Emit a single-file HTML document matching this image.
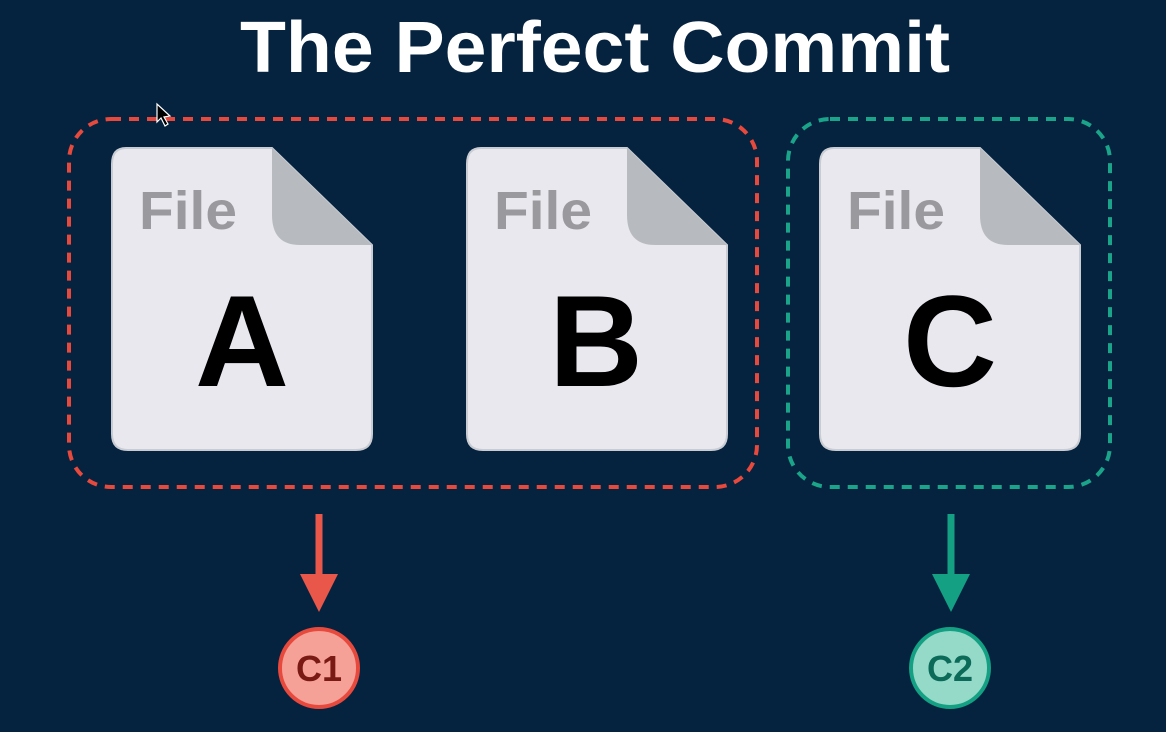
<!DOCTYPE html>
<html><head><style>body{margin:0;background:#05233f}</style></head><body>
<svg width="1166" height="732" viewBox="0 0 1166 732" xmlns="http://www.w3.org/2000/svg" style="display:block">
<rect width="1166" height="732" fill="#05233f"/>
<text x="240" y="72" textLength="710" lengthAdjust="spacingAndGlyphs" font-family="Liberation Sans, sans-serif" font-weight="bold" font-size="72" fill="#fff">The Perfect Commit</text>
<rect x="69" y="119" width="688" height="368" rx="42" fill="none" stroke="#e8493d" stroke-width="4" stroke-dasharray="10 8"/>
<rect x="788" y="119" width="322" height="368" rx="42" fill="none" stroke="#1aa58a" stroke-width="4" stroke-dasharray="10 8"/>
<g id="f">
<path d="M126 148 L272 148 L372 245 L372 434 Q372 450 356 450 L128 450 Q112 450 112 434 L112 164 Q112 148 126 148 Z" fill="#e8e8ee" stroke="#c9ccd2" stroke-width="2"/>
<path d="M272 148 L372 245 L300 245 Q272 245 272 215 Z" fill="#b7bbc0"/>
<text x="139" y="229" textLength="98" lengthAdjust="spacingAndGlyphs" font-family="Liberation Sans, sans-serif" font-weight="bold" font-size="54" fill="#9a9a9e">File</text>
</g>
<use href="#f" x="355"/>
<use href="#f" x="708"/>
<g font-family="Liberation Sans, sans-serif" font-weight="bold" font-size="130" fill="#000" text-anchor="middle">
<text x="242" y="386">A</text>
<text x="596" y="386">B</text>
<text x="950" y="386">C</text>
</g>
<line x1="319" y1="514" x2="319" y2="578" stroke="#e8574a" stroke-width="7"/>
<path d="M300 574 L338 574 L319 612 Z" fill="#e8574a"/>
<circle cx="319" cy="668" r="39" fill="#f5a197" stroke="#e8493d" stroke-width="4"/>
<text x="319" y="681" text-anchor="middle" font-family="Liberation Sans, sans-serif" font-weight="bold" font-size="36" fill="#7a1a15">C1</text>
<line x1="951" y1="514" x2="951" y2="578" stroke="#13a083" stroke-width="7"/>
<path d="M932 574 L970 574 L951 612 Z" fill="#13a083"/>
<circle cx="950" cy="668" r="39" fill="#95d9c8" stroke="#13a083" stroke-width="4"/>
<text x="950" y="681" text-anchor="middle" font-family="Liberation Sans, sans-serif" font-weight="bold" font-size="36" fill="#0c6a58">C2</text>
<path d="M157 104 L157 122 L161 118 L165 126 L168 124 L164 117 L170 116 Z" fill="#000" stroke="#fff" stroke-width="1.2"/>
</svg>
</body></html>
